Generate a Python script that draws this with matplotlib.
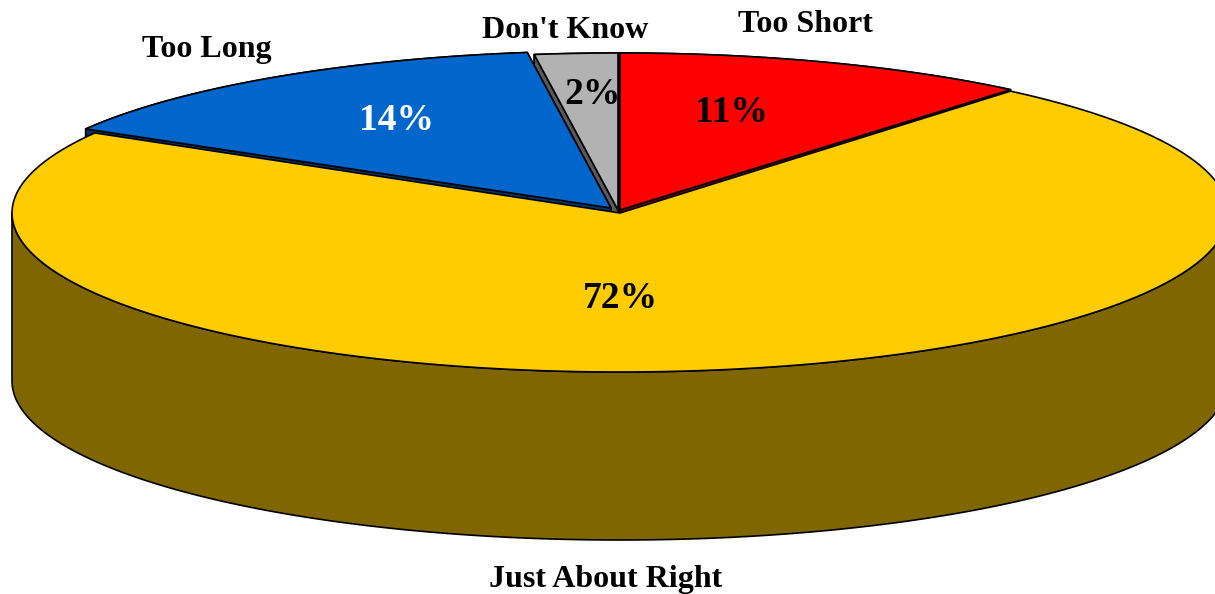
import numpy as np
import matplotlib
matplotlib.use("Agg")
import matplotlib.pyplot as plt

categories = ["Too Short", "Just About Right", "Too Long", "Don't Know"]
shares = [11.1, 72.3, 14.4, 2.2]
top_colors = ["#ff0000", "#ffcc00", "#0066cc", "#b2b2b2"]
wall_colors = ["#800000", "#806600", "#003366", "#595959"]
pct_colors = ["black", "black", "white", "black"]
offsets = [(0, -3), (0, 0), (-9, -5), (-2, -3)]
pct_pos = [(731, 112), (620, 298), (396, 121), (593, 94)]
name_pos = [(805, 24), (606, 580), (207, 50), (565, 31)]

CX, CY, RX, DEPTH = 620, 213, 608, 168
RY_FRONT, RY_BACK = 159, 157

fig = plt.figure(figsize=(12.15, 5.94), dpi=100)
ax = fig.add_axes([0, 0, 1, 1])
ax.set_xlim(0, 1215)
ax.set_ylim(594, 0)
ax.axis("off")
FONT = "Liberation Serif"


def rim(a0, a1, off, ry, n=160):
    t = np.radians(np.linspace(a0, a1, n))
    return CX + off[0] + RX * np.sin(t), CY + off[1] - ry * np.cos(t)


def poly(x, y, color, z):
    ax.fill(x, y, facecolor=color, edgecolor="black", lw=1.2, joinstyle="round", zorder=z)


edges = np.concatenate([[0], np.cumsum(shares)]) * 3.6

# walls of the slices at the back, partly hidden by what comes after them
for z, i in enumerate([3, 0, 2]):
    off = offsets[i]
    x, y = rim(edges[i], edges[i + 1], off, RY_BACK)
    px, py = CX + off[0], CY + off[1]
    poly(np.r_[x, x[::-1]], np.r_[y, y[::-1] + DEPTH], wall_colors[i], 10 + z)
    for k in (0, -1):
        poly([px, x[k], x[k], px], [py, y[k], y[k] + DEPTH, py + DEPTH], wall_colors[i], 10 + z)

# tops of the slices at the back
for z, i in enumerate([0, 2, 3]):
    off = offsets[i]
    x, y = rim(edges[i], edges[i + 1], off, RY_BACK)
    poly(np.r_[CX + off[0], x], np.r_[CY + off[1], y], top_colors[i], 20 + z)

# the large front slice
i = 1
wx, wy = rim(max(edges[i], 90), min(edges[i + 1], 270), offsets[i], RY_FRONT)
poly(np.r_[wx, wx[::-1]], np.r_[wy, wy[::-1] + DEPTH], wall_colors[i], 30)
x, y = rim(edges[i], edges[i + 1], offsets[i], RY_FRONT)
poly(np.r_[CX, x], np.r_[CY, y], top_colors[i], 31)

for i, name in enumerate(categories):
    ax.text(*name_pos[i], name, family=FONT, weight="bold", fontsize=23, ha="center", va="center",
            color="black", zorder=40)
    ax.text(*pct_pos[i], f"{round(shares[i])}%", family=FONT, weight="bold", fontsize=27, ha="center",
            va="center", color=pct_colors[i], zorder=40)

fig.savefig("out.png", dpi=100, facecolor="white")
